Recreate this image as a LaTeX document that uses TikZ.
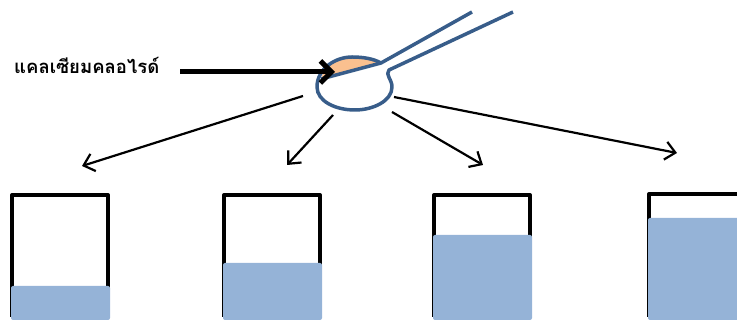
\documentclass[tikz,border=0pt]{standalone}
\usepackage{fontspec}
\newfontfamily\thaifont[Script=Thai]{Loma}
\usetikzlibrary{arrows.meta}

\definecolor{spoonblue}{RGB}{56,93,138}
\definecolor{saltorange}{RGB}{250,192,143}
\definecolor{waterblue}{RGB}{149,179,215}

\tikzset{
  beaker/.style={line width=4pt, line join=round},
  water/.style={fill=waterblue, rounded corners=2pt},
  spoon/.style={draw=spoonblue, line width=3.5pt, line join=round},
  pour/.style={line width=2.2pt, -{Straight Barb[length=10pt,width=18pt]}},
  pointer/.style={line width=5pt, -{Straight Barb[length=11pt,width=22pt]}},
}

\begin{document}
\begin{tikzpicture}[x=1pt,y=1pt]
\useasboundingbox (0,0) rectangle (737,323);
\clip (0,0) rectangle (737,323);

% beakers: left side, top, water level
\foreach \bx/\by/\lvl in {12/128/37, 224/128/60, 434/128/88, 649/129/105}{
  \draw[beaker] (\bx,6) -- (\bx,\by) -- ++(96,0) -- ++(0,6-\by);
  \fill[water] (\bx-1,3) rectangle ++(99,\lvl-3);
}

% spoon with the salt on it
\fill[saltorange] (321,245) .. controls (326,258) and (338,266) .. (352,266)
  .. controls (364,266) and (374,264) .. (381,260) -- cycle;
\draw[spoon] (513,311) -- (389,253) .. controls (385,248) and (392,244) .. (392,236)
  .. controls (392,222) and (373,213) .. (355,213)
  .. controls (335,213) and (317,222) .. (317,236)
  .. controls (317,254) and (335,266) .. (352,266)
  .. controls (364,266) and (374,264) .. (381,260) -- (472,311);
\draw[spoon] (321,244) -- (381,260);

% label
\node[anchor=base west, inner sep=0pt, font=\thaifont\bfseries\fontsize{18.5}{22}\selectfont] (salt) at (14,249) {แคลเซียมคลอไรด์};
\coordinate (tail) at (180,251);
\coordinate (grain) at (335,251);
\draw[pointer] (tail) -- (grain);

% arrows down to the beakers
\coordinate (s1) at (303,227);
\coordinate (s2) at (333,208);
\coordinate (s3) at (392,211);
\coordinate (s4) at (394,226);
\coordinate (t1) at (82,157);
\coordinate (t2) at (287,158);
\coordinate (t3) at (483,158);
\coordinate (t4) at (677,170);
\foreach \i in {1,...,4}
  \draw[pour] (s\i) -- (t\i);
\end{tikzpicture}
\end{document}
